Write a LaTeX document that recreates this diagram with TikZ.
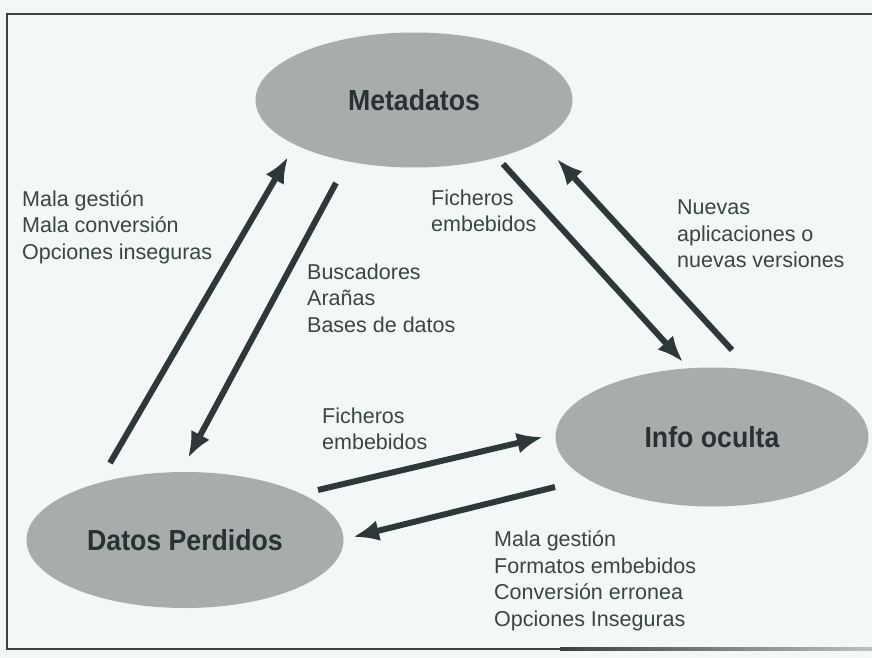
\documentclass[tikz,border=0pt]{standalone}
\usepackage{fontspec}
\setmainfont{Liberation Sans}
\newfontfamily\ellfont[FakeStretch=0.92]{Liberation Sans}
\usetikzlibrary{shapes.geometric,arrows.meta}
\definecolor{bgcol}{HTML}{F3F7F7}
\definecolor{ellfill}{HTML}{A8ACAC}
\definecolor{arrcol}{HTML}{2F3838}
\definecolor{txtcol}{HTML}{3B4444}
\definecolor{elltxt}{HTML}{283232}
\definecolor{framecol}{HTML}{3A4242}
\tikzset{
  blob/.style={ellipse, fill=ellfill, draw=none, inner sep=0pt,
    font=\ellfont\bfseries\fontsize{29}{31}\selectfont, text=elltxt},
  flow/.style={draw=arrcol, line width=6pt,
    -{Latex[length=26pt,width=21pt]}},
  lbl/.style={anchor=west, inner sep=0pt, align=left, text=txtcol,
    font=\fontsize{21.5}{26.5}\selectfont}
}
\begin{document}
\begin{tikzpicture}[x=1pt,y=-1pt]
\useasboundingbox (0,0) rectangle (872,658);
\fill[bgcol] (0,0) rectangle (872,658);
% frame
\draw[framecol, line width=2.5pt] (872,14) -- (7,14) -- (7,649) -- (560,649);
\shade[left color=framecol, right color=framecol!30!bgcol] (560,647.8) rectangle (872,650.2);

% ellipses
\node[blob, minimum width=317pt, minimum height=135pt] (meta) at (414,100) {Metadatos};
\node[blob, minimum width=313pt, minimum height=139pt] (info) at (712,437) {Info oculta};
\node[blob, minimum width=317pt, minimum height=136pt] (datos) at (185,540) {Datos Perdidos};

% arrow end points
\coordinate (a1s) at (110,463); \coordinate (a1e) at (288,157);
\coordinate (a2s) at (336,183); \coordinate (a2e) at (188,458);
\coordinate (a3s) at (503,164); \coordinate (a3e) at (683,362);
\coordinate (a4s) at (732,350); \coordinate (a4e) at (557,159);
\coordinate (a5s) at (318,490); \coordinate (a5e) at (543,437);
\coordinate (a6s) at (555,487); \coordinate (a6e) at (353,537);

\draw[flow] (a1s) -- (a1e);
\draw[flow] (a2s) -- (a2e);
\draw[flow] (a3s) -- (a3e);
\draw[flow] (a4s) -- (a4e);
\draw[flow] (a5s) -- (a5e);
\draw[flow] (a6s) -- (a6e);

% labels
\node[lbl] (l1) at (22,227) {Mala gestión\\Mala conversión\\Opciones inseguras};
\node[lbl] (l2) at (431,211) {Ficheros\\embebidos};
\node[lbl] (l3) at (677,234) {Nuevas\\aplicaciones o\\nuevas versiones};
\node[lbl] (l4) at (307,298) {Buscadores\\Arañas\\Bases de datos};
\node[lbl] (l5) at (322,429) {Ficheros\\embebidos};
\node[lbl] (l6) at (494,581) {Mala gestión\\Formatos embebidos\\Conversión erronea\\Opciones Inseguras};
\end{tikzpicture}
\end{document}
